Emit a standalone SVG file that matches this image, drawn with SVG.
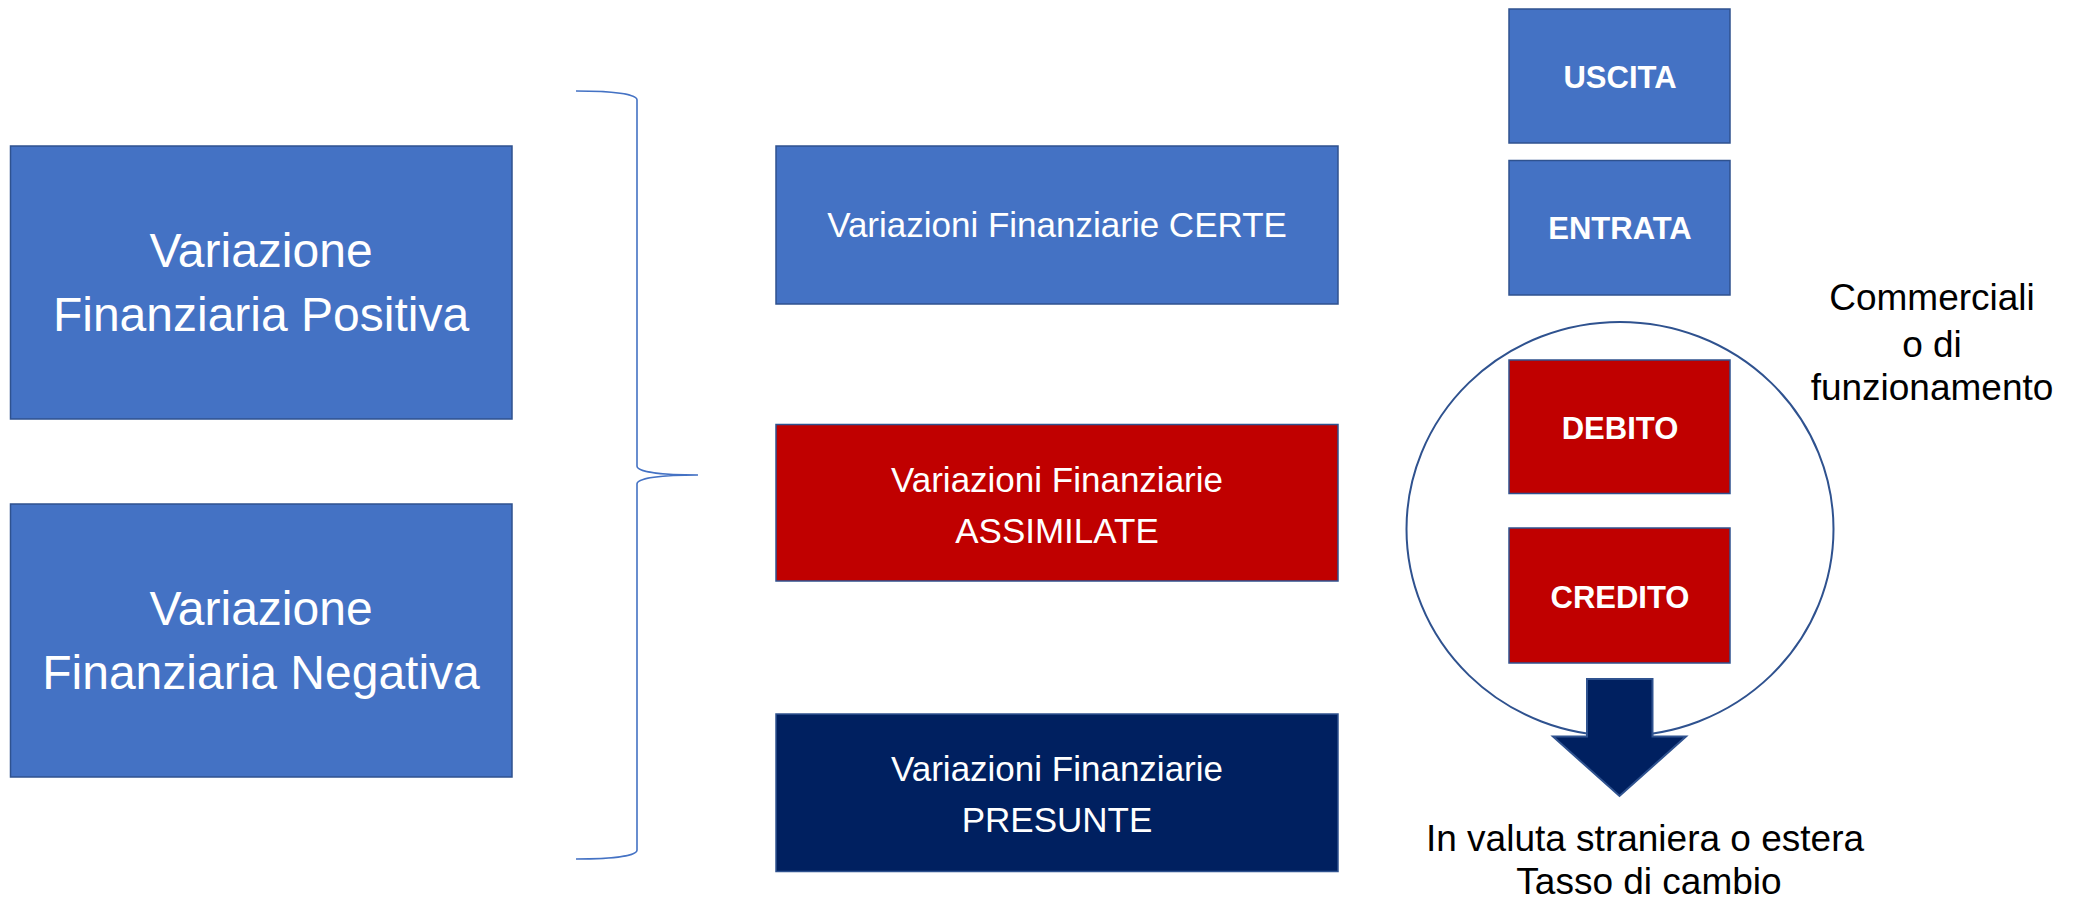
<svg xmlns="http://www.w3.org/2000/svg" width="2080" height="906" viewBox="0 0 2080 906">
<style>
.box{stroke:#2F528F;stroke-width:1.5}
.blue{fill:#4472C4}
.red{fill:#C00000}
.navy{fill:#002060}
text{font-family:"Liberation Sans",Arial,sans-serif;text-anchor:middle}
.wl{fill:#fff;font-size:48px}
.wm{fill:#fff;font-size:35px}
.wb{fill:#fff;font-size:31px;font-weight:bold}
.bk{fill:#000;font-size:37px}
</style>
<rect width="2080" height="906" fill="#fff"/>
<g id="positiva">
<rect class="box blue" x="10.5" y="146" width="501.5" height="273"/>
<text class="wl" x="261" y="266.5">Variazione</text>
<text class="wl" x="261" y="331">Finanziaria Positiva</text>
</g>
<g id="negativa">
<rect class="box blue" x="10.5" y="504" width="501.5" height="273"/>
<text class="wl" x="261" y="624.5">Variazione</text>
<text class="wl" x="261" y="689">Finanziaria Negativa</text>
</g>
<g id="connectors">
<path d="M576,91 C612,91 637,94 637,100 L637,466 C637,472 662,475 698,475 C662,475 637,478 637,484 L637,850 C637,856 612,859 576,859" fill="none" stroke="#4472C4" stroke-width="1.6"/>
<ellipse cx="1620" cy="529" rx="213.5" ry="207" fill="none" stroke="#2F528F" stroke-width="2"/>
</g>
<g id="certe">
<rect class="box blue" x="776" y="146" width="562" height="158"/>
<text class="wm" x="1057" y="237">Variazioni Finanziarie CERTE</text>
</g>
<g id="assimilate">
<rect class="box red" x="776" y="424.5" width="562" height="156.5"/>
<text class="wm" x="1057" y="491.5">Variazioni Finanziarie</text>
<text class="wm" x="1057" y="542.5">ASSIMILATE</text>
</g>
<g id="presunte">
<rect class="box navy" x="776" y="714" width="562" height="157.5"/>
<text class="wm" x="1057" y="780.5">Variazioni Finanziarie</text>
<text class="wm" x="1057" y="832">PRESUNTE</text>
</g>
<g id="uscita">
<rect class="box blue" x="1509" y="9" width="221" height="134"/>
<text class="wb" x="1620" y="88">USCITA</text>
</g>
<g id="entrata">
<rect class="box blue" x="1509" y="160.5" width="221" height="134.5"/>
<text class="wb" x="1620" y="239">ENTRATA</text>
</g>
<g id="debito">
<rect class="box red" x="1509" y="360" width="221" height="133.5"/>
<text class="wb" x="1620" y="439">DEBITO</text>
</g>
<g id="credito">
<rect class="box red" x="1509" y="528" width="221" height="135"/>
<text class="wb" x="1620" y="608">CREDITO</text>
</g>
<g id="freccia">
<path d="M1587,679 L1652.5,679 L1652.5,736.5 L1686,736.5 L1619.5,796 L1553,736.5 L1587,736.5 Z" fill="#002060" stroke="#2F528F" stroke-width="2" stroke-linejoin="miter"/>
</g>
<g id="commerciali">
<text class="bk" x="1932" y="310">Commerciali</text>
<text class="bk" x="1932" y="356.5">o di</text>
<text class="bk" x="1932" y="399.5">funzionamento</text>
</g>
<g id="valuta">
<text class="bk" x="1645" y="850.5">In valuta straniera o estera</text>
<text class="bk" x="1649" y="894">Tasso di cambio</text>
</g>
</svg>
